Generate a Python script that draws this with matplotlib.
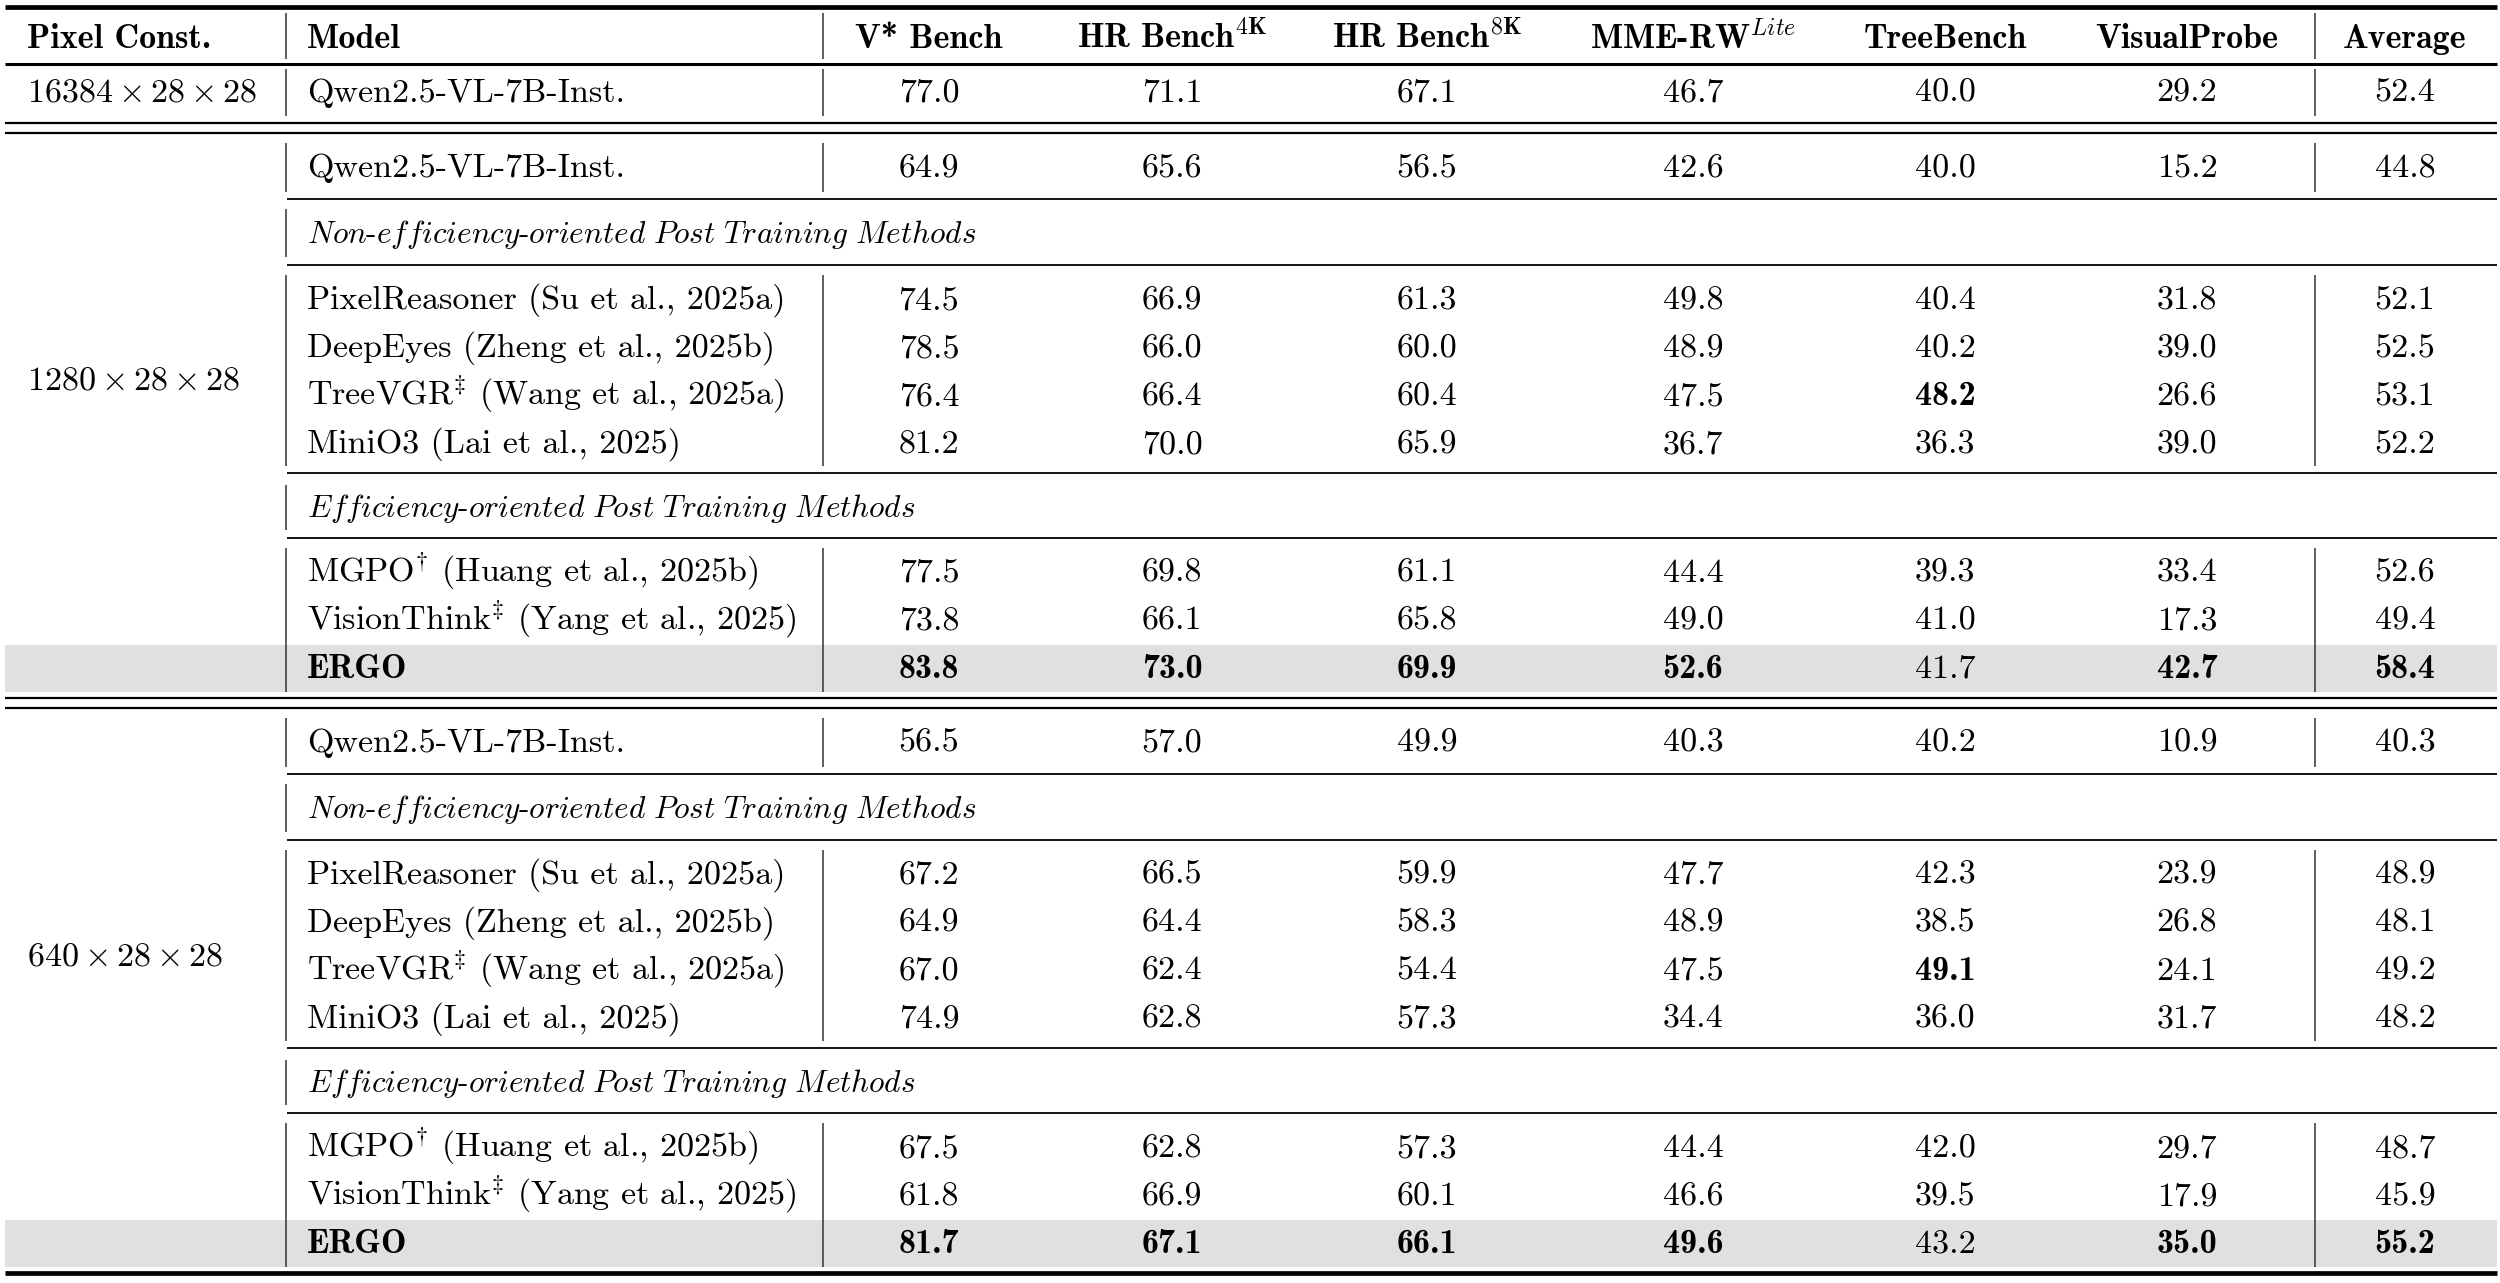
import matplotlib
matplotlib.use('Agg')
from matplotlib import pyplot as plt

plt.rcParams['mathtext.fontset'] = 'cm'

# ---- data ----
columns = ['V* Bench', r'HR Bench$^{\mathbf{4K}}$', r'HR Bench$^{\mathbf{8K}}$',
           r'MME-RW$^{Lite}$', 'TreeBench', 'VisualProbe', 'Average']
pixel_consts = [r'$16384\times28\times28$', r'$1280\times28\times28$', r'$640\times28\times28$']

base_model = 'Qwen2.5-VL-7B-Inst.'
non_eff_title = r'$\mathit{Non}$-$\mathit{efficiency}$-$\mathit{oriented\ Post\ Training\ Methods}$'
eff_title = r'$\mathit{Efficiency}$-$\mathit{oriented\ Post\ Training\ Methods}$'
non_eff_models = ['PixelReasoner (Su et al., 2025a)', 'DeepEyes (Zheng et al., 2025b)',
                  r'TreeVGR$^{\ddagger}$ (Wang et al., 2025a)', 'MiniO3 (Lai et al., 2025)']
eff_models = [r'MGPO$^{\dagger}$ (Huang et al., 2025b)',
              r'VisionThink$^{\ddagger}$ (Yang et al., 2025)', 'ERGO']

base_16384 = [77.0, 71.1, 67.1, 46.7, 40.0, 29.2, 52.4]

base_1280 = [64.9, 65.6, 56.5, 42.6, 40.0, 15.2, 44.8]
non_eff_1280 = [[74.5, 66.9, 61.3, 49.8, 40.4, 31.8, 52.1],
                [78.5, 66.0, 60.0, 48.9, 40.2, 39.0, 52.5],
                [76.4, 66.4, 60.4, 47.5, 48.2, 26.6, 53.1],
                [81.2, 70.0, 65.9, 36.7, 36.3, 39.0, 52.2]]
eff_1280 = [[77.5, 69.8, 61.1, 44.4, 39.3, 33.4, 52.6],
            [73.8, 66.1, 65.8, 49.0, 41.0, 17.3, 49.4],
            [83.8, 73.0, 69.9, 52.6, 41.7, 42.7, 58.4]]

base_640 = [56.5, 57.0, 49.9, 40.3, 40.2, 10.9, 40.3]
non_eff_640 = [[67.2, 66.5, 59.9, 47.7, 42.3, 23.9, 48.9],
               [64.9, 64.4, 58.3, 48.9, 38.5, 26.8, 48.1],
               [67.0, 62.4, 54.4, 47.5, 49.1, 24.1, 49.2],
               [74.9, 62.8, 57.3, 34.4, 36.0, 31.7, 48.2]]
eff_640 = [[67.5, 62.8, 57.3, 44.4, 42.0, 29.7, 48.7],
           [61.8, 66.9, 60.1, 46.6, 39.5, 17.9, 45.9],
           [81.7, 67.1, 66.1, 49.6, 43.2, 35.0, 55.2]]

blocks = [(pixel_consts[1], base_1280, non_eff_1280, eff_1280),
          (pixel_consts[2], base_640, non_eff_640, eff_640)]

# ---- layout (pixels, y = baselines / rule positions) ----
W, H = 2500, 1283
FS = 24.5
left, right = 5, 2497
x_pix, x_model = 27, 307
col_x = [929, 1172, 1427, 1693, 1945, 2187, 2405]
vlines = [286, 823, 2315]
gray = '#e0e0e0'

fig = plt.figure(figsize=(W / 100, H / 100), dpi=100)
ax = fig.add_axes([0, 0, 1, 1])
ax.set_xlim(0, W)
ax.set_ylim(H, 0)
ax.axis('off')


def put(x, y, s, bold=False, ha='left', size=FS):
    ax.text(x, y, s, ha=ha, va='baseline', fontsize=size,
            family='cmb10' if bold else 'cmr10', zorder=3)


def rule(y, lw, x0=left):
    ax.hlines(y, x0, right, color='black', lw=lw, zorder=2)


def vsegs(y0, y1, xs=vlines):
    ax.vlines(xs, y0, y1, color='#333333', lw=1.1, zorder=2)


# header
rule(7, 3.4)
put(x_pix, 48, 'Pixel Const.', bold=True)
put(x_model, 48, 'Model', bold=True)
for cx, c in zip(col_x, columns):
    put(cx, 48, c, bold=True, ha='center')
vsegs(13, 59)
rule(64, 2.2)

# full-resolution row
put(x_pix, 102, pixel_consts[0])
put(x_model, 102, base_model)
for cx, v in zip(col_x, base_16384):
    put(cx, 102, f'{v:.1f}', ha='center')
vsegs(69, 116)

B = 133
for label, base, non_eff, eff in blocks:
    rule(B - 10, 1.6)
    rule(B, 1.6)
    rows = [base] + non_eff + eff
    best = [max(r[j] for r in rows) for j in range(len(columns))]

    put(x_model, B + 44, base_model)
    for cx, v in zip(col_x, base):
        put(cx, B + 44, f'{v:.1f}', ha='center')
    rule(B + 66, 1.3, 287)

    put(x_model, B + 110, non_eff_title, size=22.5)
    rule(B + 132, 1.3, 287)

    for i, (name, vals) in enumerate(zip(non_eff_models, non_eff)):
        y = B + 176 + 48 * i
        put(x_model, y, name)
        for j, (cx, v) in enumerate(zip(col_x, vals)):
            put(cx, y, f'{v:.1f}', bold=(v == best[j]), ha='center')
    rule(B + 340, 1.3, 287)

    put(x_model, B + 384, eff_title, size=22.5)
    rule(B + 405, 1.3, 287)

    ax.fill_between([left, right], B + 512, B + 559, color=gray, lw=0, zorder=1)
    for i, (name, vals) in enumerate(zip(eff_models, eff)):
        y = B + 449 + 48 * i
        put(x_model, y, name, bold=(name == 'ERGO'))
        for j, (cx, v) in enumerate(zip(col_x, vals)):
            put(cx, y, f'{v:.1f}', bold=(v == best[j]), ha='center')

    put(x_pix, B + 257, label)

    vsegs(B + 10, B + 59)
    vsegs(B + 76, B + 124, xs=vlines[:1])
    vsegs(B + 142, B + 333)
    vsegs(B + 352, B + 397, xs=vlines[:1])
    vsegs(B + 415, B + 559)
    B += 575

rule(B - 10, 3.4)

fig.savefig('out.png', dpi=100)
